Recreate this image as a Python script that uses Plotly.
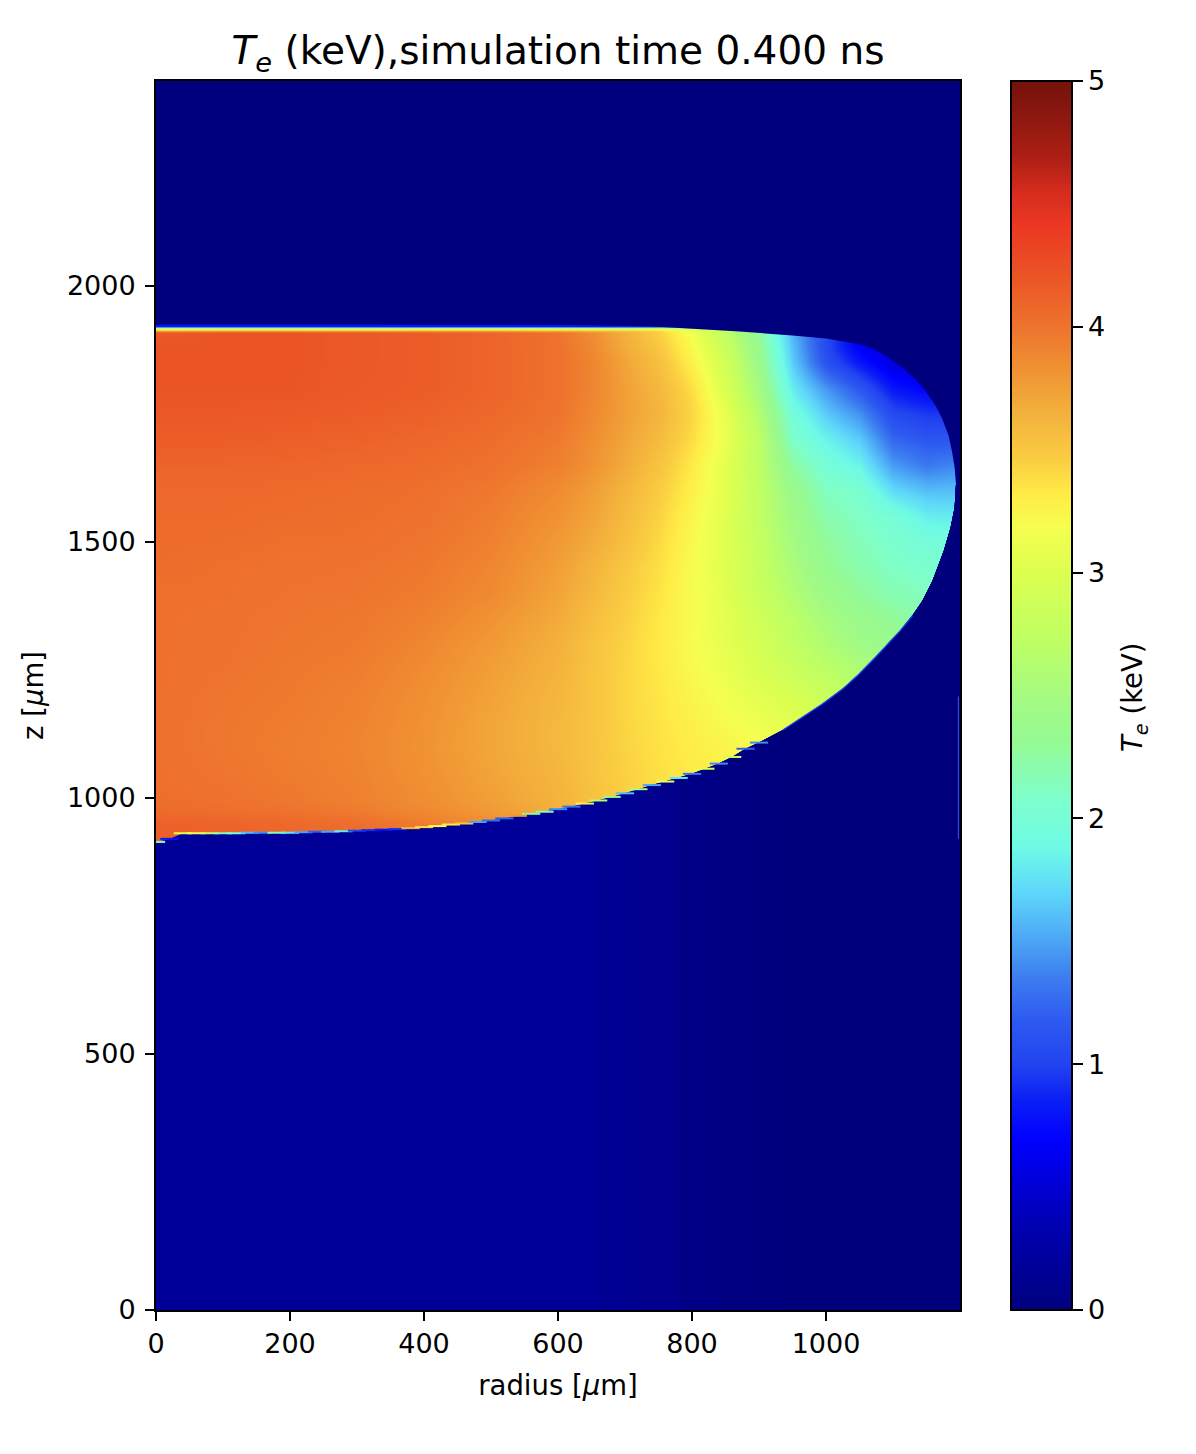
import plotly.graph_objects as go

# colour scale: keV value, colour
scale_T = [0, 0.36, 0.69, 0.85, 1.0, 1.18, 1.35, 1.5, 1.7, 1.88, 2.07, 2.32, 2.45, 2.72, 3.0, 3.18, 3.32, 3.46, 3.66,
           3.83, 4.0, 4.2, 4.42, 4.54, 4.7, 5.0]
scale_col = ["#00007f", "#0000b4", "#0000ff", "#0a1ef5", "#2244f0", "#2d5af0", "#3c7df0", "#4ba5f5", "#5fd7fa",
             "#6efae6", "#7dffcd", "#96fa91", "#a0fa87", "#beff64", "#dcff50", "#f5ff50", "#ffeb46", "#facd41",
             "#f3af3c", "#f09132", "#ee732d", "#eb5526", "#eb3723", "#d72d1e", "#aa1e14", "#73120a"]

r_cols = [0, 100, 200, 300, 400, 500, 600, 650, 700, 750, 800, 850, 900, 950, 1000, 1050, 1100, 1150, 1200]
z_rows = [1930, 1925, 1921, 1919, 1916, 1913, 1909, 1880, 1850, 1800, 1750, 1700, 1650, 1600, 1550, 1500, 1450,
          1400, 1350, 1300, 1250, 1200, 1150, 1100, 1050, 1000, 975, 950, 900]
T_grid = [
    [0, 0, 0, 0, 0, 0, 0, 0, 0, 0, 0, 0, 0, 0, 0, 0, 0, 0, 0],
    [.75, .75, .75, .75, .75, .75, .75, .75, .75, .75, .75, .75, .75, .75, .75, .5, .4, .3, .3],
    [.85, .85, .85, .85, .85, .85, .85, .85, .85, .85, .85, .85, .85, .85, .9, .55, .4, .3, .3],
    [2.2, 2.2, 2.2, 2.2, 2.2, 2.2, 2.2, 2.2, 2.2, 2.4, 1.6, 1.2, 1.4, 1.4, 1.0, .55, .4, .3, .3],
    [2.9, 2.9, 2.9, 2.9, 2.9, 2.9, 2.9, 2.9, 2.9, 3.0, 2.9, 2.3, 2.0, 1.5, 1.05, .6, .4, .3, .3],
    [3.6, 3.65, 3.65, 3.65, 3.65, 3.65, 3.6, 3.55, 3.5, 3.4, 3.1, 2.7, 2.2, 1.55, 1.05, .6, .4, .3, .3],
    [4.18, 4.2, 4.2, 4.18, 4.15, 4.1, 4.00, 3.85, 3.65, 3.45, 3.15, 2.75, 2.25, 1.55, 1.05, .6, .4, .3, .3],
    [4.2, 4.2, 4.2, 4.18, 4.15, 4.1, 4.01, 3.88, 3.68, 3.5, 3.22, 2.82, 2.35, 1.6, 1.05, .66, .5, .4, .4],
    [4.2, 4.2, 4.2, 4.18, 4.15, 4.1, 4.01, 3.9, 3.72, 3.55, 3.28, 2.88, 2.4, 1.65, 1.12, .8, .55, .5, .5],
    [4.2, 4.2, 4.2, 4.17, 4.15, 4.1, 4.01, 3.9, 3.75, 3.6, 3.38, 2.98, 2.5, 1.8, 1.45, 1.15, .8, .7, .7],
    [4.18, 4.18, 4.17, 4.15, 4.12, 4.07, 4.0, 3.88, 3.75, 3.62, 3.42, 3.08, 2.62, 1.97, 1.65, 1.42, 1.05, .95, .95],
    [4.15, 4.15, 4.13, 4.11, 4.08, 4.04, 3.96, 3.85, 3.72, 3.58, 3.38, 3.1, 2.72, 2.08, 1.85, 1.65, 1.25, 1.15, 1.15],
    [4.1, 4.1, 4.09, 4.07, 4.05, 4.01, 3.92, 3.82, 3.68, 3.52, 3.32, 3.05, 2.72, 2.25, 2.0, 1.85, 1.47, 1.33, 1.4],
    [4.07, 4.07, 4.06, 4.04, 4.02, 3.97, 3.86, 3.76, 3.62, 3.47, 3.28, 3.05, 2.75, 2.38, 2.12, 2.05, 1.72, 1.6, 1.6],
    [4.06, 4.06, 4.04, 4.03, 4.01, 3.94, 3.82, 3.72, 3.58, 3.43, 3.24, 3.03, 2.75, 2.45, 2.2, 2.1, 2.0, 1.82, 1.8],
    [4.05, 4.04, 4.02, 4.02, 3.99, 3.92, 3.78, 3.68, 3.55, 3.4, 3.22, 3.02, 2.78, 2.5, 2.28, 2.15, 2.05, 1.98, 1.95],
    [4.04, 4.02, 4.01, 4.0, 3.97, 3.89, 3.75, 3.63, 3.5, 3.37, 3.2, 3.02, 2.8, 2.55, 2.33, 2.2, 2.1, 2.05, 2.05],
    [4.02, 4.02, 4.0, 3.99, 3.95, 3.87, 3.72, 3.6, 3.47, 3.35, 3.2, 3.03, 2.83, 2.62, 2.42, 2.28, 2.18, 2.12, 2.12],
    [4.02, 4.01, 3.99, 3.97, 3.92, 3.82, 3.68, 3.56, 3.45, 3.33, 3.2, 3.05, 2.88, 2.7, 2.52, 2.38, 2.28, 2.2, 2.2],
    [4.02, 4.01, 3.98, 3.96, 3.89, 3.78, 3.65, 3.53, 3.43, 3.32, 3.2, 3.06, 2.92, 2.76, 2.6, 2.46, 2.38, 2.3, 2.3],
    [4.02, 4.0, 3.97, 3.94, 3.86, 3.75, 3.63, 3.52, 3.42, 3.33, 3.22, 3.1, 2.98, 2.85, 2.72, 2.6, 2.5, 2.4, 2.4],
    [4.02, 3.99, 3.96, 3.92, 3.84, 3.73, 3.61, 3.52, 3.42, 3.34, 3.25, 3.15, 3.05, 2.95, 2.82, 2.7, 2.6, 2.5, 2.5],
    [4.02, 3.98, 3.95, 3.91, 3.83, 3.71, 3.6, 3.52, 3.42, 3.35, 3.28, 3.2, 3.12, 3.05, 2.95, 2.8, 2.7, 2.6, 2.6],
    [4.02, 3.98, 3.94, 3.9, 3.82, 3.71, 3.6, 3.52, 3.43, 3.36, 3.3, 3.25, 3.18, 3.1, 3.0, 2.9, 2.8, 2.7, 2.7],
    [4.02, 3.99, 3.95, 3.91, 3.83, 3.72, 3.61, 3.52, 3.44, 3.37, 3.32, 3.28, 3.2, 3.1, 3.0, 2.9, 2.8, 2.7, 2.7],
    [4.03, 4.01, 3.97, 3.92, 3.85, 3.75, 3.63, 3.54, 3.45, 3.38, 3.32, 3.28, 3.2, 3.1, 3.0, 2.9, 2.8, 2.7, 2.7],
    [4.05, 4.03, 4.0, 3.95, 3.87, 3.78, 3.65, 3.55, 3.45, 3.38, 3.32, 3.28, 3.2, 3.1, 3.0, 2.9, 2.8, 2.7, 2.7],
    [4.12, 4.1, 4.07, 4.03, 3.95, 3.85, 3.7, 3.55, 3.45, 3.38, 3.32, 3.28, 3.2, 3.1, 3.0, 2.9, 2.8, 2.7, 2.7],
    [4.15, 4.13, 4.1, 4.05, 4.0, 3.9, 3.7, 3.55, 3.45, 3.38, 3.32, 3.28, 3.2, 3.1, 3.0, 2.9, 2.8, 2.7, 2.7],
]

# outline of the hot region
upper_r = [0, 300, 600, 737, 800, 871, 950, 1000, 1054, 1074, 1094, 1114, 1134, 1149, 1164, 1173, 1183, 1188, 1192, 1194]
upper_z = [1925, 1925, 1924, 1921, 1916, 1911, 1903, 1897, 1885, 1875, 1859, 1840, 1817, 1794, 1765, 1742, 1707, 1677, 1645, 1612]
edge_r = [0, 20, 40, 60, 80, 100, 120, 140, 160, 180, 200, 220, 240, 260, 280, 300, 320, 340, 360, 380, 400, 420,
          440, 460, 480, 500, 520, 540, 560, 580, 600, 620, 640, 660, 680, 700, 720, 740, 760, 780, 800, 820, 840,
          860, 880, 900]
edge_z = [914, 920, 931, 931, 931, 931, 931, 932, 932, 932, 932, 933, 934, 934, 935, 936, 937, 938, 939, 941, 943,
          945, 948, 950, 953, 956, 960, 965, 969, 973, 978, 983, 989, 995, 1002, 1009, 1017, 1025, 1032, 1039, 1047,
          1057, 1067, 1080, 1096, 1108]
edge_T = [2.0, 0.8, 3.0, 3.2, 2.8, 2.2, 2.0, 1.6, 1.4, 2.2, 1.8, 1.5, 1.2, 1.5, 1.8, 1.0, 0.9, 0.8, 0.9, 3.6, 3.4,
          3.2, 3.3, 3.5, 1.5, 1.3, 1.2, 3.8, 2.3, 2.2, 1.4, 1.3, 3.3, 2.6, 2.3, 1.6, 2.5, 1.5, 3.1, 1.8, 1.3, 3.0,
          1.4, 2.9, 1.2, 1.4]
outer_r = [935, 968, 995, 1025, 1047, 1074, 1092, 1111, 1129, 1144, 1159, 1171, 1176, 1186, 1192, 1194]
outer_z = [1132, 1160, 1184, 1213, 1239, 1275, 1300, 1327, 1356, 1385, 1424, 1463, 1483, 1528, 1567, 1612]

# cold background: starting point on the outline and its colour
band_idx = [0, 33, 36, 39, 42, 45, 46]
band_col = ["#000098", "#000092", "#00008c", "#000086", "#000081", "#00007e", "#00007c"]
upper_col = "#00007f"

streak_r = [1197.6, 1197.6]
streak_z = [1198, 920]

scale = [[t / 5, c] for t, c in zip(scale_T, scale_col)]
FONT = "DejaVu Sans"

fig = go.Figure()
fig.add_trace(go.Heatmap(x=r_cols, y=z_rows, z=T_grid, coloraxis="coloraxis", zsmooth="best", hoverinfo="skip"))

low_r = edge_r + outer_r
low_z = edge_z + outer_z
for idx, col in zip(band_idx, band_col):
    xs = [low_r[idx]] + low_r[idx:] + [1200, 1200]
    ys = [0] + low_z[idx:] + [low_z[-1], 0]
    fig.add_trace(go.Scatter(x=xs, y=ys, mode="lines", line=dict(width=0), fill="toself", fillcolor=col,
                             hoverinfo="skip", showlegend=False))
fig.add_trace(go.Scatter(x=[0] + upper_r + [1200, 1200, 0], y=[2400] + upper_z + [upper_z[-1], 2400, 2400],
                         mode="lines", line=dict(width=0), fill="toself", fillcolor=upper_col,
                         hoverinfo="skip", showlegend=False))
fig.add_trace(go.Scatter(x=outer_r[:9], y=outer_z[:9], mode="lines", line=dict(width=1.2, color="#1e50f0"),
                         hoverinfo="skip", showlegend=False))
fig.add_trace(go.Scatter(x=edge_r, y=edge_z, mode="markers", hoverinfo="skip", showlegend=False,
                         marker=dict(symbol="line-ew-open", size=13, color=edge_T, cmin=0, cmax=5, colorscale=scale,
                                     line=dict(width=2))))
fig.add_trace(go.Scatter(x=streak_r, y=streak_z, mode="lines", line=dict(width=1, color="#3c5ac8"),
                         hoverinfo="skip", showlegend=False))

axis_common = dict(showgrid=False, zeroline=False, showline=True, mirror=True, linecolor="black", linewidth=2,
                   ticks="outside", ticklen=9, tickwidth=2, tickcolor="black", layer="above traces",
                   tickfont=dict(family=FONT, size=27, color="black"))
fig.update_layout(
    width=1196, height=1454, autosize=False, paper_bgcolor="white", plot_bgcolor="white",
    margin=dict(l=156, r=236, t=81, b=144), showlegend=False,
    font=dict(family=FONT, color="black"),
    title=dict(text="<i>T</i><sub><i>e</i></sub> (keV),simulation time 0.400 ns", x=558 / 1196, xanchor="center",
               y=1 - 50 / 1454, yanchor="middle", font=dict(family=FONT, size=39, color="black")),
    xaxis=dict(range=[0, 1200], tickvals=[0, 200, 400, 600, 800, 1000],
               title=dict(text="radius [<i>μ</i>m]", font=dict(family=FONT, size=27.5), standoff=17), **axis_common),
    yaxis=dict(range=[0, 2400], tickvals=[0, 500, 1000, 1500, 2000], ticklabelstandoff=4,
               title=dict(text="z [<i>μ</i>m]", font=dict(family=FONT, size=27.5), standoff=15), **axis_common),
    coloraxis=dict(cmin=0, cmax=5, colorscale=scale, colorbar=dict(
        thicknessmode="pixels", thickness=61, lenmode="fraction", len=1,
        x=(1011 - 156) / 804, xanchor="left", y=0, yanchor="bottom",
        xpad=0, ypad=0, outlinewidth=2, outlinecolor="black", borderwidth=0,
        tickvals=[0, 1, 2, 3, 4, 5], ticks="outside", ticklen=10, tickwidth=2, tickcolor="black",
        tickfont=dict(family=FONT, size=27, color="black"))),
    annotations=[dict(text="<i>T</i><sub><i>e</i></sub> (keV)", textangle=-90, showarrow=False,
                      xref="paper", yref="paper", x=(1134 - 156) / 804, y=(1310 - 697) / 1229,
                      xanchor="center", yanchor="middle", font=dict(family=FONT, size=27.5, color="black"))],
)
fig.write_html("out.html", post_script="document.body.style.margin='0';", config={"displayModeBar": False})
